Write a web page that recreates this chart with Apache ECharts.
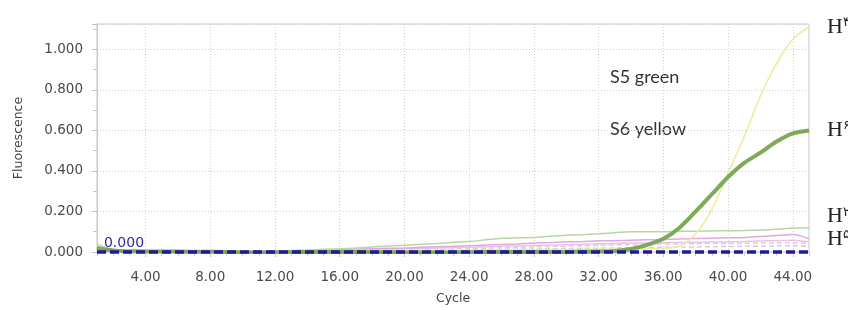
<!DOCTYPE html>
<html>
<head>
<meta charset="utf-8">
<script src="https://cdn.jsdelivr.net/npm/echarts@6/dist/echarts.min.js"></script>
<style>html,body{margin:0;padding:0;background:#fff}#c{width:848px;height:310px}</style>
</head>
<body>
<div id="c"></div>
<script>
const cycles = [1,2,3,4,5,6,7,8,9,10,11,12,13,14,15,16,17,18,19,20,21,22,23,24,25,26,27,28,29,30,31,32,33,34,35,36,37,38,39,40,41,42,43,44,45];
const xTickLabels = [4,8,12,16,20,24,28,32,36,40,44];
const yellowH3 = [0.03,0.012,0.006,0.004,0.003,0.003,0.002,0.002,0.003,0.003,0.004,0.004,0.005,0.005,0.006,0.006,0.007,0.007,0.008,0.008,0.009,0.009,0.01,0.01,0.01,0.011,0.011,0.012,0.012,0.012,0.013,0.013,0.014,0.015,0.016,0.018,0.03,0.09,0.21,0.39,0.57,0.77,0.93,1.05,1.11];
const greenH6 = [0.02,0.008,0.004,0.003,0.002,0.002,0.001,0.001,0.0,-0.002,-0.003,-0.002,0.0,0.0,0.0,0.0,0.0,-0.001,-0.001,-0.002,-0.003,-0.003,-0.002,-0.001,0.0,0.0,0.0,0.0,0.0,0.0,0.001,0.002,0.005,0.015,0.035,0.065,0.12,0.2,0.285,0.37,0.44,0.49,0.545,0.585,0.6];
const paleGreenH2 = [0.04,0.01,0.002,0.001,0.001,0.002,0.002,0.003,0.003,0.004,0.004,0.005,0.008,0.01,0.013,0.016,0.02,0.025,0.03,0.033,0.038,0.042,0.048,0.052,0.06,0.068,0.07,0.072,0.078,0.083,0.085,0.09,0.095,0.1,0.1,0.1,0.102,0.103,0.104,0.105,0.106,0.108,0.112,0.118,0.12];
const pinkH5 = [0.01,0.004,0.003,0.003,0.003,0.003,0.004,0.004,0.004,0.005,0.005,0.005,0.006,0.008,0.01,0.012,0.014,0.016,0.018,0.02,0.023,0.026,0.028,0.031,0.034,0.037,0.04,0.044,0.047,0.05,0.052,0.055,0.056,0.058,0.06,0.062,0.064,0.066,0.068,0.07,0.072,0.076,0.082,0.086,0.065];
const lavender = [0.008,0.003,0.002,0.002,0.002,0.002,0.003,0.003,0.003,0.004,0.004,0.004,0.005,0.006,0.008,0.009,0.011,0.013,0.014,0.016,0.018,0.02,0.022,0.024,0.026,0.028,0.03,0.032,0.034,0.036,0.038,0.04,0.042,0.044,0.045,0.046,0.047,0.048,0.049,0.05,0.052,0.054,0.056,0.058,0.05];
const pinkDash = [0.006,0.002,0.001,0.001,0.001,0.002,0.002,0.002,0.002,0.003,0.003,0.003,0.004,0.004,0.005,0.006,0.007,0.008,0.009,0.01,0.012,0.013,0.015,0.017,0.019,0.021,0.023,0.025,0.027,0.029,0.031,0.033,0.035,0.036,0.038,0.039,0.04,0.041,0.042,0.042,0.043,0.044,0.045,0.046,0.042];
const lavDash = [0.004,0.001,0.0,0.0,0.0,0.001,0.001,0.001,0.001,0.002,0.002,0.002,0.002,0.003,0.003,0.004,0.005,0.005,0.006,0.007,0.008,0.009,0.01,0.011,0.012,0.013,0.014,0.015,0.016,0.017,0.018,0.019,0.02,0.021,0.022,0.023,0.024,0.025,0.026,0.027,0.028,0.029,0.03,0.031,0.028];
const thresholdLine = [[1,0],[45,0]];
const thresholdLabel = '0.000';
const endLabels = {yellowH3:'H۳', greenH6:'H۶', paleGreenH2:'H۲', pinkH5:'H۵'};
const notes = ['S5 green','S6 yellow'];

function pairs(arr){ return cycles.map((c,i)=>[c,arr[i]]); }
function endLab(txt, dy){
  return {show:true, distance:18, offset:[0,dy], formatter:'{a|H}{b|'+txt.slice(1)+'}',
    rich:{a:{fontFamily:'Liberation Serif', fontSize:22, color:'#222'},
          b:{fontFamily:'DejaVu Sans', fontSize:13, color:'#222', padding:[0,0,9,0]}}};
}
function faint(data, color, type, width){
  return {type:'line', data:pairs(data), showSymbol:false, silent:true, smooth:0.3,
    lineStyle:{color:color, width:width||1.5, type:type||'solid'}, z:2};
}
const chart = echarts.init(document.getElementById('c'), null, {renderer:'canvas'});
chart.setOption({
  animation:false,
  backgroundColor:'#fff',
  grid:{left:97, right:39, top:24, bottom:56, show:true, borderColor:'#c8c8c8', borderWidth:1},
  xAxis:[{
    type:'value', min:1, max:45,
    name:'Cycle', nameLocation:'middle', nameGap:40,
    nameTextStyle:{fontFamily:'DejaVu Sans', fontSize:12.5, color:'#444'},
    axisLine:{show:false},
    axisTick:{show:true, length:5, customValues:xTickLabels, lineStyle:{color:'#bbb'}},
    axisLabel:{customValues:xTickLabels, formatter:v=>v.toFixed(2), margin:18, fontFamily:'DejaVu Sans', fontSize:13.5, color:'#4a4a4a'},
    splitLine:{show:true, lineStyle:{color:'#cfcfcf', type:[1,2]}}
  },{
    type:'value', min:1, max:45, position:'bottom',
    axisLine:{show:false}, axisLabel:{show:false}, splitLine:{show:false},
    axisTick:{show:true, length:4, customValues:cycles, lineStyle:{color:'#ccc'}}
  }],
  yAxis:{
    type:'value', min:0, max:1.125, interval:0.2,
    name:'Fluorescence', nameLocation:'middle', nameGap:72,
    nameTextStyle:{fontFamily:'DejaVu Sans', fontSize:12.5, color:'#444'},
    axisLine:{show:true, lineStyle:{color:'#c8c8c8'}},
    axisTick:{show:true, length:5, lineStyle:{color:'#c0c0c0'}},
    minorTick:{show:true, splitNumber:2, length:4, lineStyle:{color:'#c8c8c8'}},
    axisLabel:{formatter:v=>v.toFixed(3), showMaxLabel:false, margin:14, fontFamily:'DejaVu Sans', fontSize:13.5, color:'#4a4a4a'},
    splitLine:{show:true, lineStyle:{color:'#cfcfcf', type:[1,2]}}
  },
  graphic:[
    {type:'text', left:610, top:68, style:{text:notes[0], font:'18px Lato', fill:'#333'}},
    {type:'text', left:610, top:120, style:{text:notes[1], font:'18px Lato', fill:'#333'}}
  ],
  series:[
    faint(lavDash, '#d6c8ee', [5,3], 1.5),
    faint(pinkDash, '#f2c4dc', [5,3], 1.5),
    faint(lavender, '#dcc8ec', 'solid', 1.5),
    Object.assign(faint(pinkH5, '#e2a8de', 'solid', 1.5), {endLabel:endLab(endLabels.pinkH5, 0)}),
    Object.assign(faint(paleGreenH2, '#b9d7a6', 'solid', 1.5), {endLabel:endLab(endLabels.paleGreenH2, -11)}),
    Object.assign(faint(yellowH3, '#f1eb9e', 'solid', 1.6), {z:3, endLabel:endLab(endLabels.yellowH3, 0)}),
    {type:'line', data:pairs(greenH6), showSymbol:false, smooth:0.3, z:4,
      lineStyle:{color:'#74a34c', width:4, opacity:0.92}, endLabel:endLab(endLabels.greenH6, 0)},
    {type:'line', clip:false, data:thresholdLine.map((p,i)=>i===0?{value:p, label:{show:true, formatter:thresholdLabel, position:'inside', offset:[27,-9], fontFamily:'DejaVu Sans', fontSize:14, color:'#2b2ba6'}}:{value:p}),
      symbol:'circle', symbolSize:1, itemStyle:{color:'rgba(0,0,0,0)'}, z:5,
      lineStyle:{color:'#1c1c98', width:3.5, type:[9,4]}}
  ]
});
</script>
</body>
</html>
